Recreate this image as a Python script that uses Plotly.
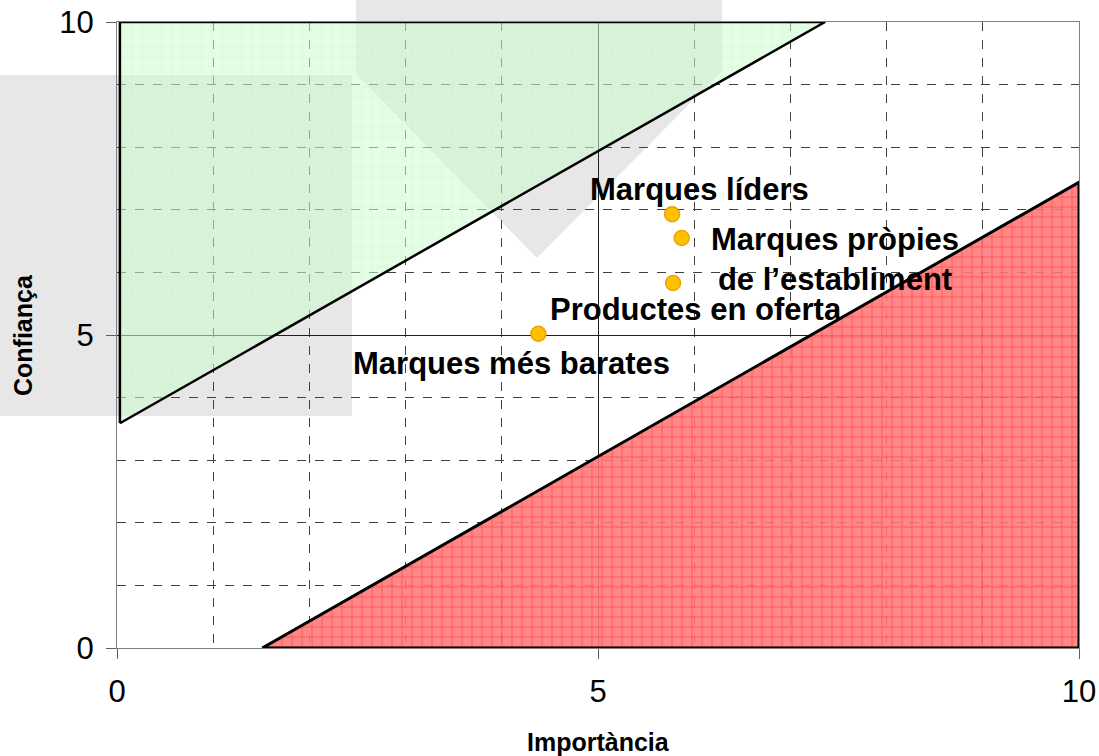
import plotly.graph_objects as go

# ---- data ----
labels = ["Marques líders", "Marques pròpies<br>de l’establiment", "Productes en oferta", "Marques més barates"]
importancia = [5.77, 5.87, 5.78, 4.38]
confianca = [6.93, 6.55, 5.83, 5.02]

# label anchor positions (data units)
label_x = [6.06, 7.46, 6.02, 4.10]
label_y = [7.33, 6.20, 5.40, 4.54]

# regions
green_x = [0.03, 0.03, 7.36, 0.03]
green_y = [3.59, 10.0, 10.0, 3.59]
red_x = [1.51, 10.0, 10.0, 1.51]
red_y = [0.0, 0.0, 7.44, 0.0]

tick_vals = [0, 5, 10]
tick_text = ["0", "5", "10"]

fig = go.Figure()

fig.add_trace(go.Scatter(
    x=green_x, y=green_y, mode="lines", fill="toself",
    fillcolor="rgba(205,250,205,0.55)",
    fillpattern=dict(shape="+", size=10, solidity=0.08,
                     fgcolor="rgba(170,240,170,0.7)", bgcolor="rgba(205,250,205,0.55)"),
    line=dict(color="black", width=2.5), cliponaxis=False, hoverinfo="skip", showlegend=False))

fig.add_trace(go.Scatter(
    x=red_x, y=red_y, mode="lines", fill="toself",
    fillcolor="rgba(255,115,115,0.88)",
    fillpattern=dict(shape="+", size=10, solidity=0.14,
                     fgcolor="#ff1010", bgcolor="rgba(255,118,118,0.88)"),
    line=dict(color="black", width=3), cliponaxis=False, hoverinfo="skip", showlegend=False))

fig.add_trace(go.Scatter(
    x=importancia, y=confianca, mode="markers",
    marker=dict(size=15, color="#FFC000", line=dict(color="#F0A000", width=1.5)),
    cliponaxis=False, showlegend=False))

for t, lx, ly in zip(labels, label_x, label_y):
    fig.add_annotation(x=lx, y=ly, text="<b>" + t + "</b>", showarrow=False,
                       xanchor="center", yanchor="middle", align="center",
                       font=dict(family="Liberation Sans, Arial", size=31, color="black"))

# background grey artefacts (paper coords)
fig.add_shape(type="rect", xref="paper", yref="paper", layer="below",
              x0=-0.1216, x1=0.2443, y0=0.3706, y1=0.9153,
              fillcolor="#e7e7e7", line=dict(width=0))
fig.add_shape(type="path", xref="paper", yref="paper", layer="below",
              path="M 0.2484 1.0351 L 0.6289 1.0351 L 0.6289 0.9217 L 0.4366 0.6230 L 0.2484 0.9169 Z",
              fillcolor="#e7e7e7", line=dict(width=0))

# axis titles
fig.add_annotation(xref="paper", yref="paper", x=0.5, y=(648 - 742) / 626, text="<b>Importància</b>",
                   showarrow=False, xanchor="center", yanchor="middle",
                   font=dict(family="Liberation Sans, Arial", size=25, color="black"))
fig.add_annotation(xref="paper", yref="paper", x=(23 - 117) / 962, y=0.5, text="<b>Confiança</b>",
                   showarrow=False, xanchor="center", yanchor="middle", textangle=-90,
                   font=dict(family="Liberation Sans, Arial", size=25, color="black"))

axis_common = dict(
    range=[0, 10], tickvals=tick_vals, ticktext=tick_text,
    ticks="outside", ticklen=10, tickcolor="#606060", tickwidth=1,
    showline=True, linecolor="#7f7f7f", linewidth=1, mirror=True,
    showgrid=True, gridcolor="#202020", gridwidth=1,
    zeroline=False, automargin=False, ticklabeloverflow="allow",
    minor=dict(dtick=1, showgrid=True, griddash="dash", gridcolor="#404040", gridwidth=1, ticks=""),
    tickfont=dict(family="Liberation Sans, Arial", size=31, color="black"),
    fixedrange=True,
)

fig.update_xaxes(**axis_common, ticklabelstandoff=6)
fig.update_yaxes(**axis_common, ticklabelstandoff=6)

fig.update_layout(
    width=1099, height=756,
    margin=dict(l=117, r=20, t=22, b=108, autoexpand=False),
    plot_bgcolor="rgba(0,0,0,0)", paper_bgcolor="white",
    showlegend=False,
)

# remove the default page-body margin so the figure sits at the window's top-left corner
fig.write_html("out.html", config={"displayModeBar": False},
               post_script="document.body.style.margin='0';")
